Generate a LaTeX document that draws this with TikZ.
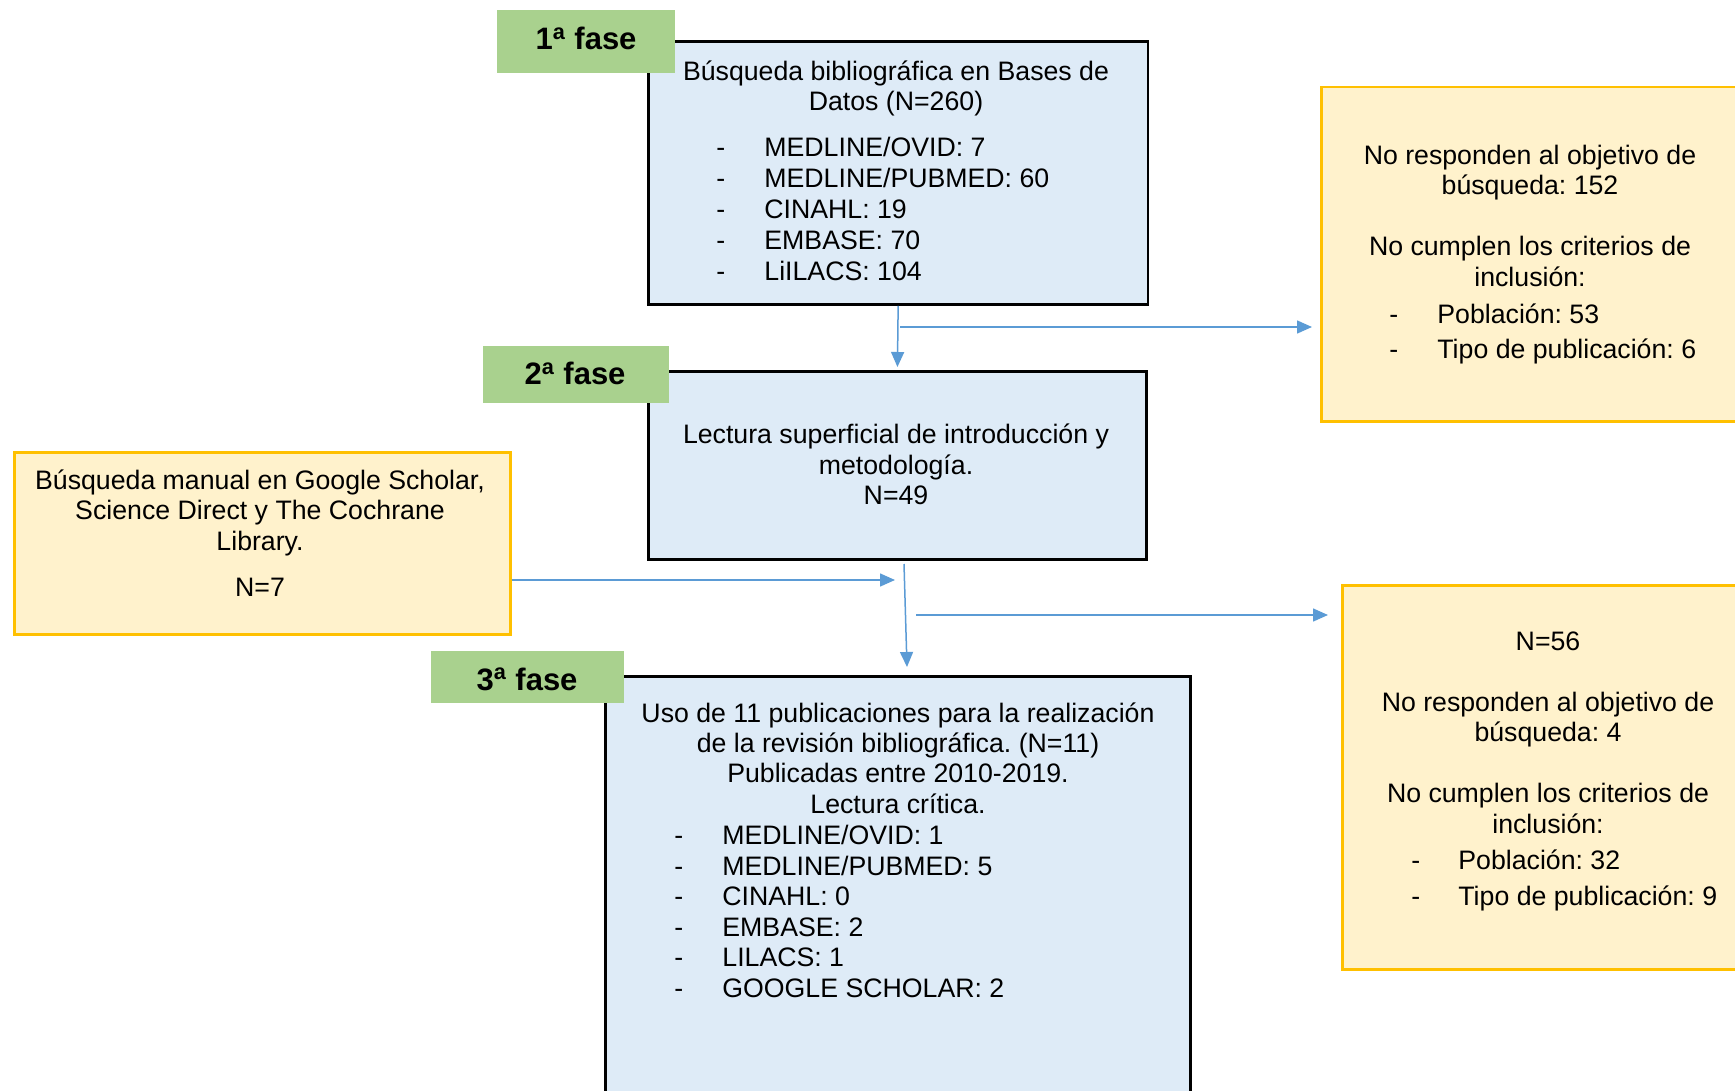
\documentclass[tikz,border=0pt]{standalone}
\usepackage{fontspec}
\setmainfont{Liberation Sans}
\usetikzlibrary{arrows.meta}
\definecolor{bluefill}{HTML}{DEEBF7}
\definecolor{yelfill}{HTML}{FFF2CC}
\definecolor{yeldraw}{HTML}{FFC000}
\definecolor{grnfill}{HTML}{A9D18E}
\definecolor{arrowcol}{HTML}{5B9BD5}
\frenchspacing
\begin{document}
\frenchspacing
\begin{tikzpicture}[x=0.5pt,y=-0.5pt,
  bluebox/.style={draw=black, line width=1.4pt, fill=bluefill, anchor=north west, inner sep=0pt},
  yelbox/.style={draw=yeldraw, line width=1.25pt, fill=yelfill, anchor=north west, inner sep=0pt},
  phase/.style={fill=grnfill, anchor=north west, inner sep=0pt},
  phasetxt/.style={anchor=base, font=\fontsize{15.5}{18}\selectfont\bfseries, inner sep=0pt},
  txt/.style={anchor=base, font=\fontsize{13.35}{15.5}\selectfont, inner sep=0pt},
  item/.style={anchor=base west, font=\fontsize{13.35}{15.5}\selectfont, inner sep=0pt},
  conn/.style={draw=arrowcol, line width=0.75pt, -{Triangle[length=7.5pt,width=6.5pt]}}
]
\path[use as bounding box] (0,0) rectangle (1735,1091);
\clip (0,0) rectangle (1735,1091);

% boxes
\node[bluebox, minimum width=249.75pt, minimum height=131.5pt] (b1) at (647,40) {};
\node[bluebox, minimum width=249pt, minimum height=94pt] (b2) at (647,370) {};
\node[bluebox, minimum width=292.5pt, minimum height=215pt] (b3) at (604,675) {};
\node[yelbox, minimum width=248pt, minimum height=91pt] (l1) at (13,451) {};
\node[yelbox, minimum width=215pt, minimum height=167pt] (r1) at (1320,86) {};
\node[yelbox, minimum width=205pt, minimum height=192pt] (r2) at (1341,584) {};

% phase labels
\node[phase, minimum width=89pt, minimum height=31.5pt] (p1) at (497,10) {};
\node[phase, minimum width=93pt, minimum height=28.5pt] (p2) at (483,346) {};
\node[phase, minimum width=96.5pt, minimum height=26pt] (p3) at (431,651) {};
\node[phasetxt] (p1t) at (586,50) {1\textsuperscript{a} fase};
\node[phasetxt] (p2t) at (575,385) {2\textsuperscript{a} fase};
\node[phasetxt] (p3t) at (527,690) {3\textsuperscript{a} fase};

% box 1 text
\foreach \t/\y [count=\i] in {{Búsqueda bibliográfica en Bases de}/81, {Datos (N=260)}/111}
  \node[txt] (b1t\i) at (896,\y) {\t};
\foreach \t/\y [count=\i] in {{MEDLINE/OVID: 7}/157, {MEDLINE/PUBMED: 60}/188, {CINAHL: 19}/219, {EMBASE: 70}/250, {LiILACS: 104}/281}
  {\node[item] (b1d\i) at (716,\y) {-};
   \node[item] (b1i\i) at (764,\y) {\t};}

% box 2 text
\foreach \t/\y [count=\i] in {{Lectura superficial de introducción y}/443, {metodología.}/474, {N=49}/504}
  \node[txt] (b2t\i) at (896,\y) {\t};

% left yellow text
\foreach \t/\y [count=\i] in {{Búsqueda manual en Google Scholar,}/489, {Science Direct y The Cochrane}/519, {Library.}/550, {N=7}/596}
  \node[txt] (l1t\i) at (260,\y) {\t};

% right yellow 1 text
\foreach \t/\y [count=\i] in {{No responden al objetivo de}/165, {búsqueda: 152}/195, {No cumplen los criterios de}/256, {inclusión:}/287}
  \node[txt] (r1t\i) at (1530,\y) {\t};
\foreach \t/\y [count=\i] in {{Población: 53}/323, {Tipo de publicación: 6}/358}
  {\node[item] (r1d\i) at (1389,\y) {-};
   \node[item] (r1i\i) at (1437,\y) {\t};}

% right yellow 2 text
\foreach \t/\y [count=\i] in {{N=56}/650, {No responden al objetivo de}/711, {búsqueda: 4}/741, {No cumplen los criterios de}/802, {inclusión:}/833}
  \node[txt] (r2t\i) at (1548,\y) {\t};
\foreach \t/\y [count=\i] in {{Población: 32}/869, {Tipo de publicación: 9}/905}
  {\node[item] (r2d\i) at (1411,\y) {-};
   \node[item] (r2i\i) at (1458,\y) {\t};}

% box 3 text
\foreach \t/\y [count=\i] in {{Uso de 11 publicaciones para la realización}/722, {de la revisión bibliográfica. (N=11)}/752, {Publicadas entre 2010-2019.}/782, {Lectura crítica.}/813}
  \node[txt] (b3t\i) at (898,\y) {\t};
\foreach \t/\y [count=\i] in {{MEDLINE/OVID: 1}/844, {MEDLINE/PUBMED: 5}/875, {CINAHL: 0}/905, {EMBASE: 2}/936, {LILACS: 1}/966, {GOOGLE SCHOLAR: 2}/997}
  {\node[item] (b3d\i) at (674,\y) {-};
   \node[item] (b3i\i) at (722,\y) {\t};}

% connectors
\draw[conn, shorten >=1.5pt] (b1.south) -- (b2.north);
\coordinate (h1s) at (900,327);
\draw[conn, shorten >=4pt] (h1s) -- (h1s -| r1.west);
\coordinate (j2) at (895,580);
\draw[conn] (l1.east |- j2) -- (j2);
\coordinate (v2s) at (904,564);
\coordinate (v2e) at (907,667);
\draw[conn] (v2s) -- (v2e);
\coordinate (h2s) at (916,615);
\draw[conn, shorten >=6.5pt] (h2s) -- (h2s -| r2.west);
\end{tikzpicture}
\end{document}
